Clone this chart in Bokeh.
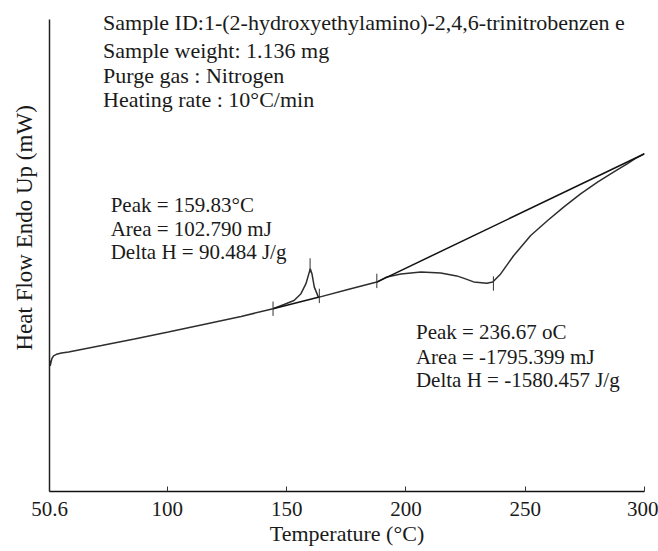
import math
from bokeh.plotting import figure
from bokeh.models import Label, FixedTicker, Range1d, ColumnDataSource, Title
from bokeh.embed import file_html
from bokeh.resources import INLINE

# ---- data ----
temperature = [50.7, 50.9, 51.2, 51.6, 52.3, 53.5, 55.6, 58.6, 72.4, 86.2, 100.4,
               114.2, 130.9, 144.3, 148.9, 153.1, 156.0, 158.1, 159.5, 159.9, 160.6,
               161.6, 163.3, 163.7, 175.7, 187.8, 192.0, 197.9, 206.3, 214.6, 221.3,
               223.8, 228.4, 233.9, 236.4, 239.7, 245.2, 252.3, 259.4, 266.1, 273.2,
               280.3, 287.0, 292.9, 295.9, 300.0]
heat_flow = [6.55, 6.28, 6.45, 6.65, 6.78, 6.86, 6.92, 6.98, 7.30, 7.63, 7.98,
             8.33, 8.75, 9.14, 9.35, 9.55, 9.89, 10.39, 10.97, 11.14, 10.89,
             10.22, 9.72, 9.72, 10.10, 10.47, 10.73, 10.88, 10.98, 10.93, 10.78,
             10.68, 10.48, 10.41, 10.47, 10.88, 11.80, 12.80, 13.55, 14.22, 14.88,
             15.47, 15.97, 16.39, 16.63, 16.89]

# integration baselines (start T, start HF, end T, end HF)
base_t0 = [144.3, 187.8]
base_h0 = [9.14, 10.47]
base_t1 = [163.7, 300.0]
base_h1 = [9.72, 16.89]

# limit marks on the curve
mark_t = [144.3, 159.83, 163.7, 187.8, 236.67]
mark_h = [9.14, 11.30, 9.78, 10.53, 10.40]
mark_half = 0.36

x_ticks = [50.6, 100, 150, 200, 250, 300]
x_tick_labels = ["50.6", "100", "150", "200", "250", "300"]

header_lines = [
    "Sample ID:1-(2-hydroxyethylamino)-2,4,6-trinitrobenzen e",
    "Sample weight: 1.136 mg",
    "Purge gas : Nitrogen",
    "Heating rate : 10\u00b0C/min",
]
peak1_lines = ["Peak = 159.83\u00b0C", "Area = 102.790 mJ", "Delta H = 90.484 J/g"]
peak2_lines = ["Peak = 236.67 oC", "Area = -1795.399 mJ", "Delta H = -1580.457 J/g"]

FONT = "Liberation Serif"
INK = "#1a1a1a"

p = figure(width=658, height=551, output_backend="svg", toolbar_location=None,
           x_range=Range1d(50.6, 300), y_range=Range1d(0, 23.95),
           min_border_left=48, min_border_right=14, min_border_top=12,
           min_border_bottom=60)
p.outline_line_color = None
p.grid.visible = False
p.background_fill_color = "white"
p.border_fill_color = "white"

# curve
p.line(temperature, heat_flow, line_color="#2e2e2e", line_width=1.5)

# baselines
p.segment(x0=base_t0, y0=base_h0, x1=base_t1, y1=base_h1,
          line_color="#111111", line_width=1.5)

# limit marks
src = ColumnDataSource(dict(x=mark_t, y0=[h - mark_half for h in mark_h],
                            y1=[h + mark_half for h in mark_h]))
p.segment(x0="x", y0="y0", x1="x", y1="y1", source=src,
          line_color="#333333", line_width=1)

# axes
xa = p.xaxis[0]
xa.ticker = FixedTicker(ticks=x_ticks)
xa.major_label_overrides = {t: l for t, l in zip(x_ticks, x_tick_labels)}
xa.major_tick_in = 5
xa.major_tick_out = 0
xa.minor_tick_line_color = None
xa.major_label_standoff = 10
xa.major_label_text_font = FONT
xa.major_label_text_font_size = "21px"
xa.major_label_text_color = INK
xa.axis_line_color = "#111111"
xa.axis_line_width = 1.5
xa.major_tick_line_color = "#333333"
xa.axis_label = "Temperature (\u00b0C)"
xa.axis_label_text_font = FONT
xa.axis_label_text_font_size = "22px"
xa.axis_label_text_font_style = "normal"
xa.axis_label_text_color = INK
xa.axis_label_standoff = 2

ya = p.yaxis[0]
ya.bounds = (0, 23.6)
ya.ticker = FixedTicker(ticks=[])
ya.minor_tick_line_color = None
ya.major_tick_line_color = None
ya.major_tick_in = 0
ya.major_tick_out = 0
ya.major_label_standoff = 0
ya.major_label_text_font_size = "0px"
ya.axis_line_color = "#222222"
ya.axis_line_width = 1.5

# y label as a left title, shifted up as in the reference
p.add_layout(Title(text="Heat Flow Endo Up (mW)", align="left", offset=141, standoff=22,
                   vertical_align="top",
                   text_font=FONT, text_font_size="23px", text_font_style="normal",
                   text_color=INK), "left")

def add_block(lines, x, ys, size):
    for t, y in zip(lines, ys):
        p.add_layout(Label(x=x, y=y, text=t, text_font=FONT, text_font_size=size,
                           text_color=INK, text_baseline="alphabetic", text_align="left"))

add_block(header_lines, 73.07, [23.44, 22.07, 20.82, 19.60], "22px")
add_block(peak1_lines, 76.25, [14.32, 13.15, 11.99], "21px")
add_block(peak2_lines, 204.2, [7.99, 6.74, 5.57], "21px")

open("out.html", "w").write(file_html(p, INLINE))
